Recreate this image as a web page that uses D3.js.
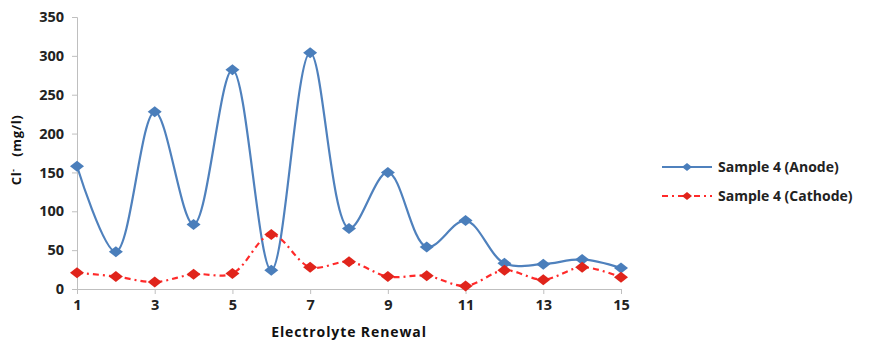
<!DOCTYPE html>
<html>
<head>
<meta charset="utf-8">
<script src="https://cdn.jsdelivr.net/npm/d3@7"></script>
<style>
body { margin: 0; background: #fff; }
text { font-family: "Open Sans", "Liberation Sans", Arial, sans-serif; }
</style>
</head>
<body>
<div id="chart"></div>
<script>
// Electrolyte renewal, Cl- concentration (mg/l)
var renewals = [1, 2, 3, 4, 5, 6, 7, 8, 9, 10, 11, 12, 13, 14, 15];
var anode = [158, 48, 228, 83, 282, 24, 304, 78, 150, 54, 88, 33, 32, 38, 27];
var cathode = [21, 16, 9, 19, 20, 70, 28, 35, 16, 17, 4, 24, 12, 28, 15];
var xTicks = [1, 3, 5, 7, 9, 11, 13, 15];
var yTicks = [0, 50, 100, 150, 200, 250, 300, 350];

var width = 876, height = 343;
var margin = {top: 17, right: 255, bottom: 54, left: 77};

var svg = d3.select("#chart")
    .append("svg")
    .attr("width", width)
    .attr("height", height);

var x = d3.scaleLinear()
    .domain([1, 15])
    .range([margin.left, width - margin.right]);

var y = d3.scaleLinear()
    .domain([0, 350])
    .range([height - margin.bottom, margin.top]);

// axes
var yAxis = svg.append("g")
    .attr("transform", "translate(" + margin.left + ",0)")
    .call(d3.axisLeft(y).tickValues(yTicks).tickSize(5).tickPadding(8));

var xAxis = svg.append("g")
    .attr("transform", "translate(0," + y(0) + ")")
    .call(d3.axisBottom(x).tickValues(xTicks).tickSize(5).tickPadding(6));

[xAxis, yAxis].forEach(function (a) {
    a.select(".domain").attr("stroke", "#bfbfbf");
    a.selectAll(".tick line").attr("stroke", "#bfbfbf");
    a.selectAll(".tick text")
        .attr("fill", "#222")
        .style("font-family", "'Open Sans', sans-serif")
        .style("font-size", "14.5px")
        .style("font-weight", "bold");
});

// axis titles
svg.append("text")
    .attr("x", 349)
    .attr("y", 337)
    .attr("text-anchor", "middle")
    .style("font-size", "14px")
    .style("font-weight", "bold")
    .style("letter-spacing", "0.9px")
    .attr("fill", "#111")
    .text("Electrolyte Renewal");

svg.append("text")
    .attr("transform", "translate(21,150) rotate(-90)")
    .attr("text-anchor", "middle")
    .style("font-size", "13px")
    .style("font-weight", "bold")
    .style("letter-spacing", "0.6px")
    .attr("fill", "#111")
    .html("Cl<tspan dy='-5' font-size='8px'>-</tspan><tspan dy='5'>\u00a0\u00a0 (mg/l)</tspan>");

var series = [
    {name: "Sample 4 (Anode)", values: anode, line: "#4f81bd", mark: "#4a7ebb", dash: null},
    {name: "Sample 4 (Cathode)", values: cathode, line: "#ff2a2a", mark: "#e0241b", dash: "6,4,2,4"}
];

// Excel-style diamond, a little wider than tall
function diamond(w, h) {
    return "M0," + (-h / 2) + "L" + (w / 2) + ",0L0," + (h / 2) + "L" + (-w / 2) + ",0Z";
}

series.forEach(function (s) {
    var pts = renewals.map(function (r, i) { return [r, s.values[i]]; });
    var line = d3.line()
        .x(function (d) { return x(d[0]); })
        .y(function (d) { return y(d[1]); })
        .curve(d3.curveCatmullRom.alpha(0.5));

    svg.append("path")
        .datum(pts)
        .attr("d", line)
        .attr("fill", "none")
        .attr("stroke", s.line)
        .attr("stroke-width", 2.2)
        .attr("stroke-dasharray", s.dash);

    svg.append("g")
        .selectAll("path")
        .data(pts)
        .enter()
        .append("path")
        .attr("d", diamond(14, 11))
        .attr("transform", function (d) { return "translate(" + x(d[0]) + "," + y(d[1]) + ")"; })
        .attr("fill", s.mark);
});

// legend
var legend = svg.append("g").attr("transform", "translate(662,167)");
series.forEach(function (s, i) {
    var g = legend.append("g").attr("transform", "translate(0," + (i * 29) + ")");
    g.append("line")
        .attr("x1", 0).attr("x2", 50)
        .attr("stroke", s.line)
        .attr("stroke-width", 2)
        .attr("stroke-dasharray", s.dash);
    g.append("path")
        .attr("d", diamond(10, 8))
        .attr("transform", "translate(25,0)")
        .attr("fill", s.mark);
    g.append("text")
        .attr("x", 56)
        .attr("y", 5)
        .style("font-size", "14px")
        .style("font-weight", "bold")
        .attr("fill", "#222")
        .text(s.name);
});
</script>
</body>
</html>
